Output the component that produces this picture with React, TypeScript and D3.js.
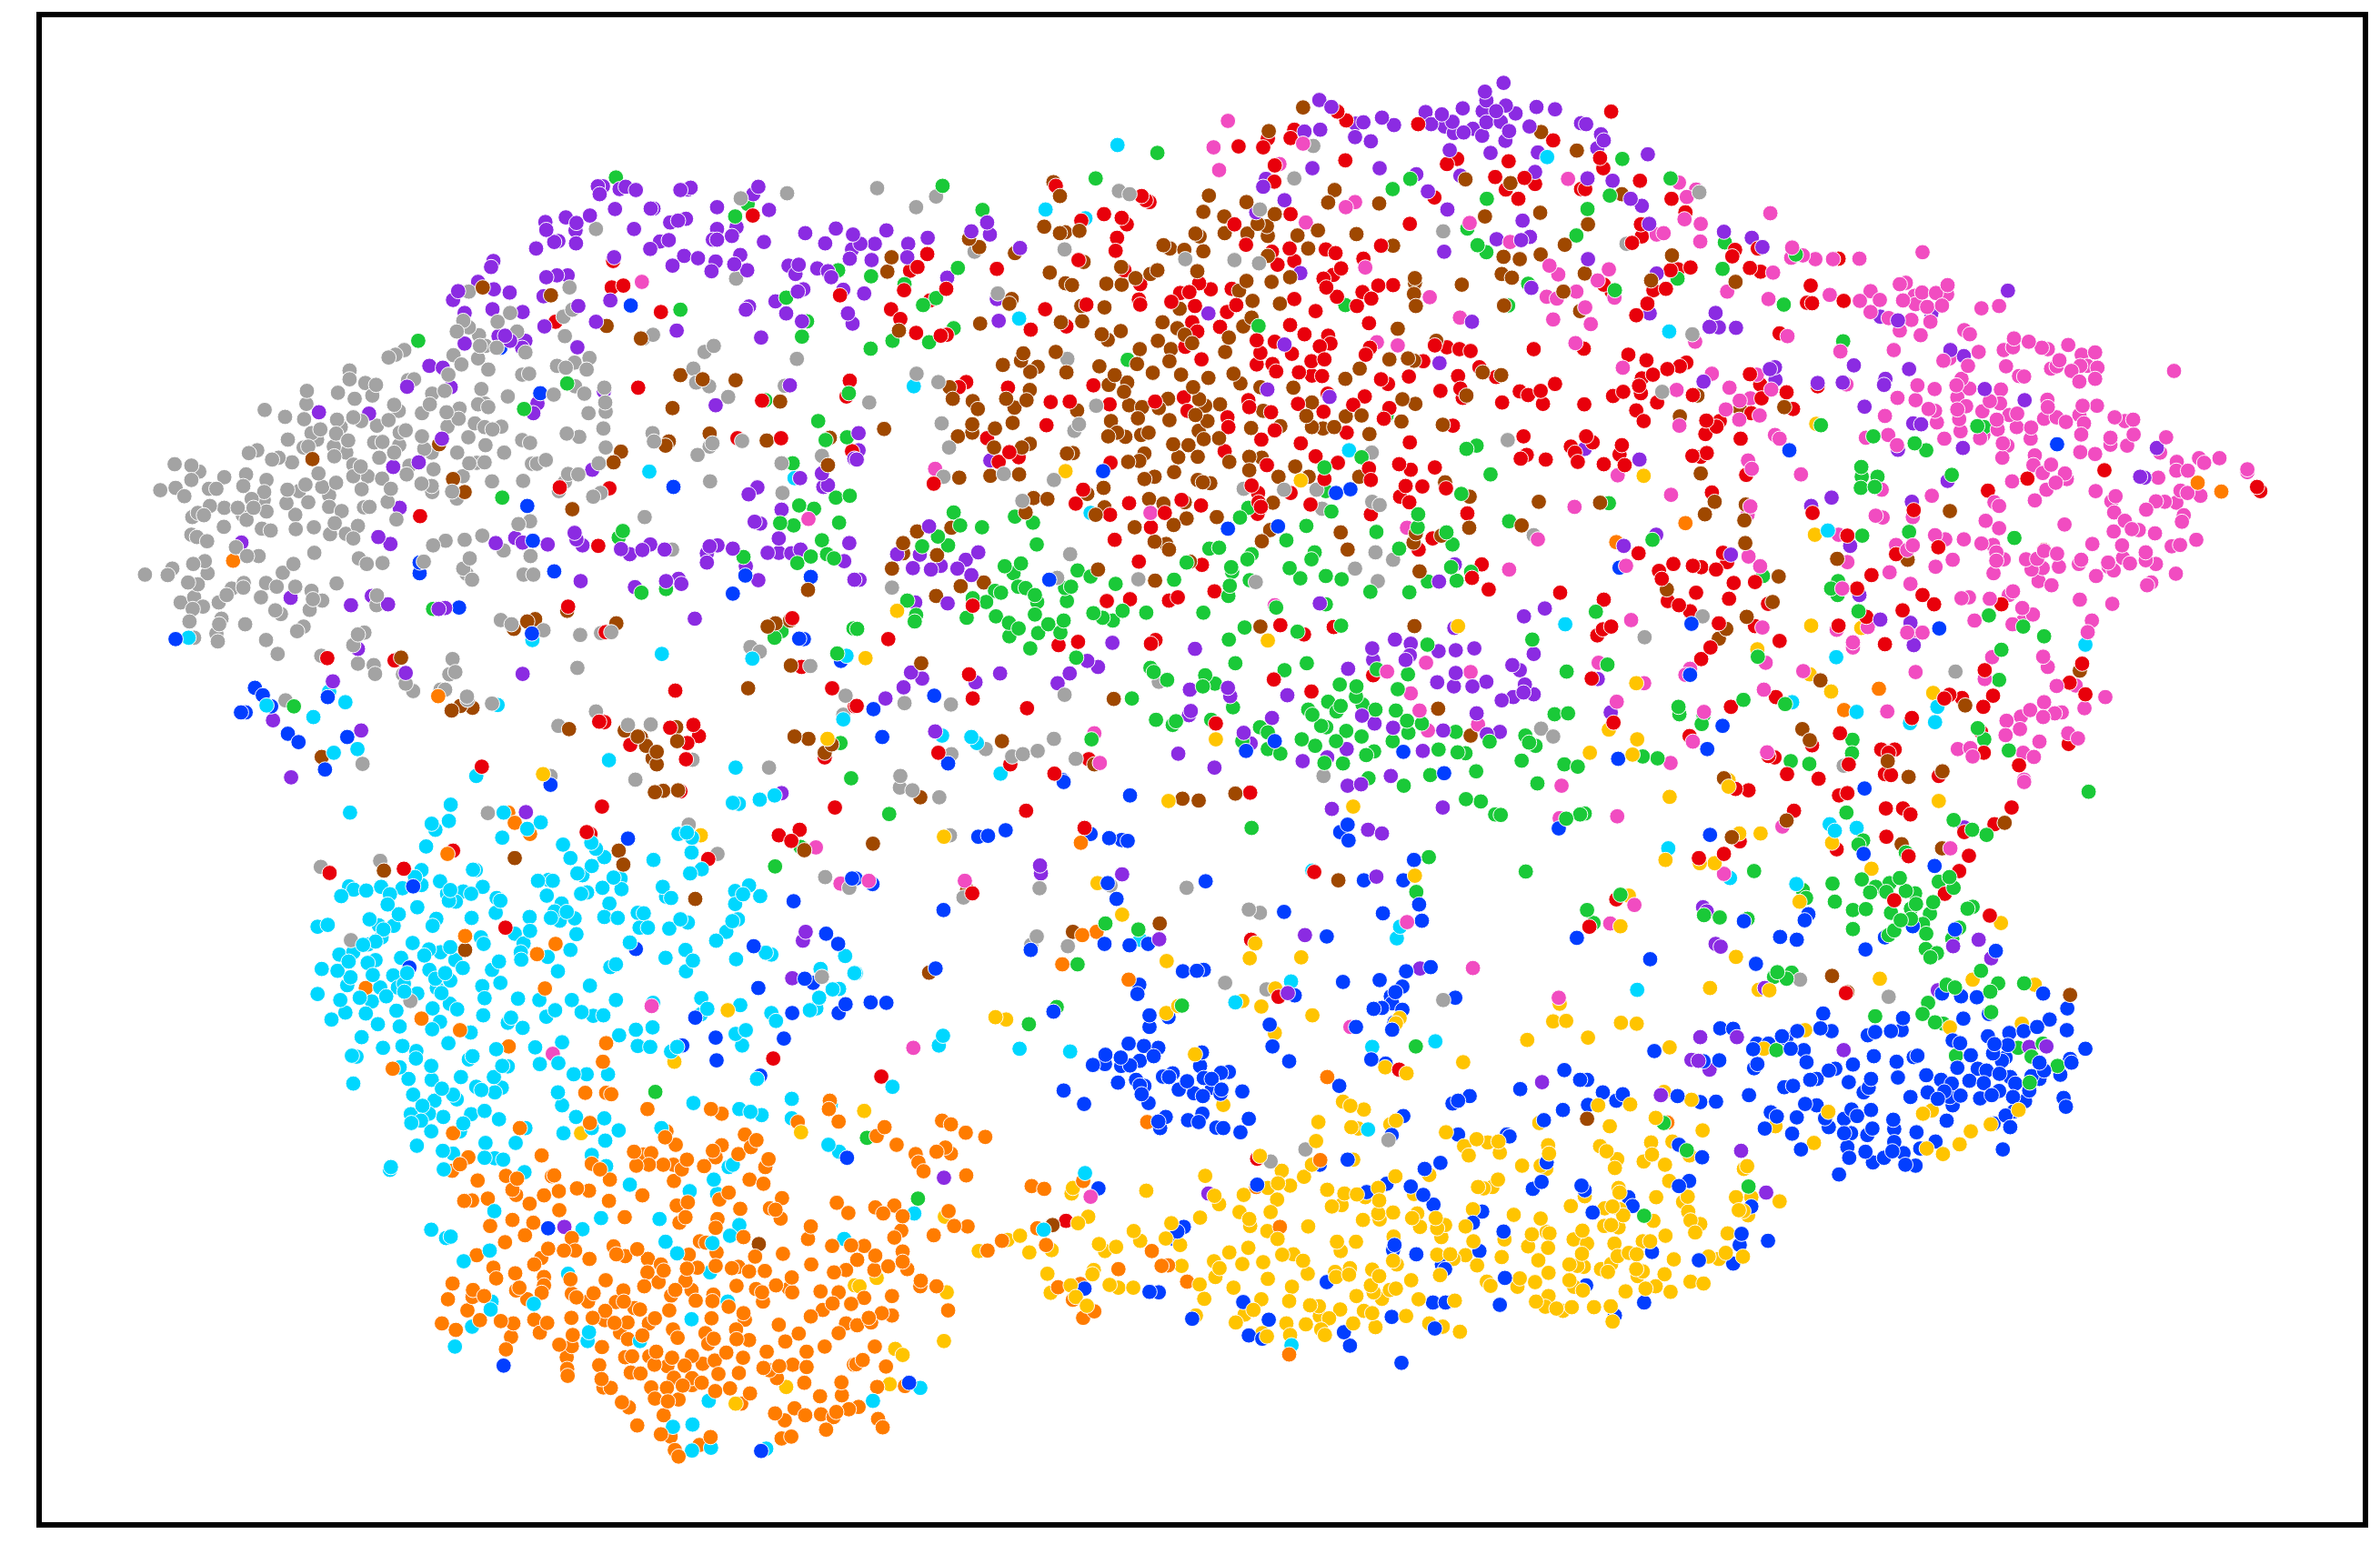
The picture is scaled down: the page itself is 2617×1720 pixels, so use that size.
import { useEffect, useRef } from "react";
import * as d3 from "d3";

// Points, one crop at a time. Each list is flat x,y,x,y...
// in crop units, nw/n/ne are the top row and sw/s/se the bottom row.

const grayNW = [1422,299,1322,310,1010,376,1312,483,953,502,736,511,959,550,940,565,825,557,798,576,724,574,736,588,710,597,758,605,840,597,943,607,578,647,597,637,563,653,1133,604,1112,612,1264,628,1244,641,760,628,772,628,796,632,703,648,720,668,756,655,858,642,1443,656,964,664,996,654,926,671,945,675,990,679,778,679,692,690,851,690,866,688,479,681,479,700,605,702,618,700,513,708,536,712,454,729,490,742,528,735,387,725,657,731,763,721,684,725,820,737,919,733,965,715,985,731,1028,718,1030,750,1220,677,1226,707,1254,715,1295,738,1417,714,386,753,296,766,340,781,381,786,575,755,585,768,652,754,635,773,756,754,770,752,778,760,688,771,716,763,714,785,487,782,452,787,504,790,538,800,563,788,994,773,1031,770,749,795,770,803,787,808,806,802,690,802,1026,806,587,815,600,810,450,817,460,803,397,816,416,808,409,830,476,832,346,830,635,823,735,825,947,817,974,824,851,831,868,837,1132,816,1135,834,1261,838,1325,833,1255,845,532,836,550,835,445,845,472,858,390,845,446,866,380,847,586,842,640,850,656,858,772,842,711,858,812,858,1031,847,1229,863,262,859,280,853,312,873,326,869,355,879,543,869,575,858,102,883,138,886,155,899,503,888,487,884,608,886,660,894,737,881,753,880,770,879,902,874,883,882,872,882,1016,881,1497,865,1410,881,209,911,256,905,300,917,138,917,412,903,487,909,518,909,549,914,602,905,634,925,656,930,723,909,786,920,853,919,950,904,972,905,943,921,1256,920,71,939,104,934,176,936,192,936,123,952,250,930,295,943,345,938,370,941,384,927,420,932,450,923,505,937,568,936,657,943,700,942,710,957,930,941,1004,953,1020,945,1412,945,294,960,268,958,435,950,390,965,343,967,178,973,209,977,238,977,272,977,300,985,152,988,165,993,140,997,362,992,462,984,435,975,522,975,510,976,561,964,580,1002,249,993,257,1003,447,1010,497,1016,208,1018,290,1022,309,1026,363,1023,402,1019,437,1034,471,1033,487,1043,138,1035,150,1040,172,1049,843,1012,868,1006,1115,997,659,1058,686,1048,727,1046,765,1037,811,1069,234,1062,258,1081,283,1081,403,1074,1174,1067,869,1081,499,1086,516,1098,550,1096,639,1093,738,1086,142,1098,167,1092,97,1108,87,1122,38,1121,173,1118,358,1098,335,1117,724,1108,731,1119,743,1132,854,1121,875,1121,131,1138,152,1142,299,1139,251,1139,225,1151,250,1149,322,1147,362,1147,451,1140,397,1156,144,1170,214,1165,288,1170,400,1174,420,1177,115,1181,197,1181,538,1166,537,1187,163,1190,141,1195,393,1197,319,1198,331,1206,134,1222,203,1216,198,1228,254,1228,192,1248,380,1233,366,1243,805,1219,828,1228,897,1241,976,1251,1021,1247,1043,1245,144,1257,195,1265,299,1262,324,1292,497,1250,511,1246,487,1273,1343,1277,1363,1287,418,1296,497,1313,531,1316,534,1335,701,1303,707,1331,694,1336,970,1322,1472,1318,594,1336,600,1356,616,1372,685,1369,675,1369,732,1384,733,1391,341,1392,786,1399,1548,1382,1543,1423,929,1447,1010,1416,1079,1445,1128,1444,1218,1520,507,1529,1383,1537,1095,1563,912,1555];
const purpleNW = [1014,284,1025,284,1018,301,1061,290,1074,285,1096,292,1192,292,1214,287,1208,291,1360,285,1349,301,1271,329,1383,335,1051,333,1128,332,1134,332,901,361,903,378,945,351,968,363,966,379,997,347,1170,362,1187,358,1204,354,1092,376,1271,376,1313,372,1303,391,1461,385,1527,375,1564,388,881,418,920,404,929,402,967,407,1127,419,1148,403,1167,400,1262,399,1271,399,1372,404,1504,407,1562,420,1200,434,1230,439,1049,437,1268,446,1321,432,1308,452,1336,465,1259,467,1175,455,1425,455,1447,453,1487,461,1440,473,1510,467,1517,480,1557,440,789,445,784,458,903,480,926,476,949,476,756,490,790,506,824,513,713,510,702,529,1041,530,897,521,1457,506,1445,511,1543,507,1397,532,727,557,787,549,852,555,1333,550,1340,543,1420,558,972,542,1010,576,899,586,1553,558,1454,575,1563,580,1184,595,800,607,814,606,858,617,825,617,727,623,851,632,970,631,1366,610,651,671,680,675,697,717,603,716,1268,756,1027,726,884,752,875,773,1428,713,413,771,521,774,678,828,573,889,628,879,1002,895,1567,871,1450,913,1497,903,1510,928,1500,932,1358,933,1339,948,587,977,1410,981,1364,1011,1352,1007,541,1040,567,1055,246,1052,794,1053,836,1042,852,1052,906,1056,964,1031,968,1045,981,1058,1064,1066,1083,1077,1110,1068,1127,1056,1158,1067,1255,1060,1272,1058,1305,1065,1404,1043,1380,1074,1404,1074,1431,1075,1451,1067,1556,1053,1545,1092,1249,1095,1249,1075,1333,1103,1360,1133,1094,1148,977,1135,1161,1135,1188,1130,1194,1141,1567,1132,352,1171,482,1187,562,1185,527,1167,671,1195,685,1193,497,1281,1223,1216,852,1335,600,1333,443,1351,314,1435,504,1457,353,1558];
const greenNW = [1053,265,1337,322,1310,349,627,617,1532,465,1420,524,1192,550,1465,575,1454,608,948,709,1555,730,1375,745,855,764,1489,790,1505,831,1551,825,1434,881,808,955,1527,955,1557,951,1448,972,1480,979,1534,1009,1407,1010,1436,1015,1068,1027,1059,1041,1497,1047,1328,1083,1473,1082,1508,1077,1523,1086,1444,1096,1161,1152,1108,1160,659,1195,1410,1243,1395,1257,1565,1237,1530,1291,359,1405,1537,1484,1560,1560];
const redNW = [1348,347,1536,519,1044,502,1069,498,1150,555,923,576,1047,445,1101,718,1557,703,1550,737,1368,746,1315,827,1409,827,1562,855,932,933,1039,935,631,995,1015,1059,950,1190,1433,1215,1031,1245,431,1301,576,1306,1453,1320,1181,1371,1519,1366,1568,1405,1017,1438,1028,1439,1170,1451,1220,1445,1232,1469,1207,1484,1084,1488,1204,1519,1503,1515,764,1535];
const pinkNW = [1109,490,1468,1001];
const blueNW = [1085,541,890,730,804,632,1177,932,862,973,1473,1126,874,1048,630,1118,630,1095,920,1114,1332,1123,1305,1162,715,1192,872,1248,1448,1259,1458,1260,1538,1307,104,1260,275,1365,292,1381,310,1405,255,1418,245,1418,432,1385,346,1464,369,1482,474,1471,426,1541];
const brownNW = [766,502,913,519,1033,585,1107,612,1192,691,1240,700,1311,702,1407,748,1175,762,1514,826,1255,817,1167,834,1160,843,1378,832,672,840,399,872,1064,856,1048,879,1510,885,702,915,727,943,959,980,879,1217,862,1222,833,1238,948,1199,1054,1226,1467,1154,1380,1233,1397,1226,1428,1220,590,1300,1430,1317,952,1454,1072,1457,1100,1470,1107,1472,1118,1490,1141,1503,1132,1517,1141,1530,1183,1450,1185,1480,1438,1470,1468,1475,1503,1505,1518,1487,699,1414,718,1404,744,1408,1338,1366,419,1514];
const cyanNW = [1125,899,1438,913,132,1257,873,1262,1152,1292,1347,1302,1550,1296,435,1373,470,1396,401,1428,300,1403,798,1402,445,1505,496,1497,1038,1521,1311,1537,752,1555,1543,1433];
const orangeNW = [228,1091,670,1383];
const yellowNW = [1509,1475,896,1551];

const grayN = [48,288,132,329,175,306,569,294,592,301,452,420,988,197,947,267,873,334,1268,381,712,441,818,443,871,450,308,515,133,688,180,706,458,656,31,750,187,795,483,797,473,811,520,757,203,847,191,910,321,904,429,917,838,936,925,938,361,962,995,938,1007,979,1115,964,1131,971,1463,1036,1407,831,1114,858,464,1077,80,1149,436,1128,611,1131,864,1137,1122,1073,1160,1089,1078,1108,1127,1135,258,425,107,1398,207,1401,452,1380,655,1352,282,1497,339,1513,362,1508,394,1501,429,1475,476,1518,208,1508,1479,1453,1505,1470,1010,1555,98,1555];
const purpleN = [1001,98,1027,113,1096,146,1079,149,1136,136,1162,152,1003,162,1078,178,1112,187,969,166,1398,61,1358,80,1361,99,1403,110,1310,116,1230,124,1265,129,1242,150,1288,145,1271,155,1353,122,1382,122,1424,127,1361,146,1392,145,1469,113,1509,118,1332,160,1410,165,1291,169,1312,168,1352,175,1402,186,1454,155,1565,148,1282,206,1370,212,1472,211,986,245,1131,245,1466,253,1305,261,1210,258,880,285,886,268,926,314,1235,295,1277,334,1439,358,1383,398,1455,393,1436,400,1270,425,865,340,1458,503,285,362,251,381,291,388,356,417,68,379,157,395,115,408,113,437,43,408,12,408,36,443,199,481,20,515,310,574,306,527,762,558,960,471,926,625,889,722,1023,738,1260,665,1330,576,8,816,8,853,4,873,292,875,160,1017,91,1077,140,1078,239,1089,266,1073,221,1108,185,1102,164,1110,125,1107,251,1122,10,1132,130,1181,200,1183,1293,1099,1259,1136,1487,1194,1442,1211,1292,1236,1002,1183,555,1268,733,1281,1164,1261,1198,1270,1258,1286,1295,1284,1335,1280,1196,1295,1187,1305,1117,1305,1115,1280,1063,1324,1463,1292,1417,1316,1433,1327,1295,1333,1255,1353,1291,1362,1331,1362,1361,1352,1444,1358,1441,1375,1463,1379,1419,1385,1394,1392,501,1307,524,1320,463,1334,437,1355,121,1332,145,1345,105,1364,66,1388,313,1334,260,1353,722,1369,804,1365,809,1383,724,1415,720,1424,932,1381,1340,1420,1390,1460,1160,1451,1120,1442,1093,1425,1268,1457,838,1462,899,1430,173,1459,697,1507,775,1537,853,1485,965,1523,1060,1497,1224,1501,1155,1555,1018,1515,1362,1465];
const greenN = [189,283,275,335,519,267,652,212,1197,268,1159,290,1362,311,222,460,35,478,107,495,147,540,175,525,213,590,81,617,160,620,34,634,588,658,1057,540,870,585,1555,390,1342,411,1361,426,1320,375,1451,494,1408,541,213,987,227,1015,274,1019,179,1039,145,1060,201,1058,345,996,384,1009,392,1056,848,977,830,998,1027,985,973,1016,1015,941,1012,890,1146,778,1092,868,1340,843,1318,850,1370,905,1307,947,1214,991,1213,1019,1288,1056,1173,1065,1124,1029,1410,1006,1275,1030,930,1047,764,1065,785,1063,855,1077,846,1088,991,1073,984,1088,813,1115,811,1105,808,1145,805,1167,851,1133,688,1132,715,1095,323,1103,358,1097,342,1118,352,1147,368,1150,388,1165,393,1180,302,1156,315,1160,254,1172,283,1180,241,1214,304,1211,332,1225,353,1237,333,1254,395,1247,388,1207,417,1228,450,1220,443,1246,378,1280,453,1150,466,1147,457,1178,480,1112,508,1125,562,1141,514,1204,534,1214,577,1199,556,1220,628,1203,751,1203,113,1177,132,1208,129,1222,5,1238,806,1261,840,1235,954,1244,908,1192,1015,1185,974,1312,926,1327,820,1312,1048,1231,937,1107,960,1129,1015,1124,1049,1131,1111,1158,1195,1159,1235,1136,1297,1134,1328,1115,1285,1105,1460,1261,1234,1272,1192,1336,1125,1325,1170,1368,1045,1358,1081,1362,1080,1384,1094,1401,1122,1412,1166,1414,1190,1436,1222,1442,477,1300,597,1388,644,1331,637,1322,673,1348,755,1338,750,1362,776,1356,815,1407,649,1434,692,1437,685,1445,768,1434,986,1423,977,1412,1020,1395,1047,1404,1038,1416,1016,1450,1005,1447,1037,1480,1059,1458,963,1476,992,1490,1092,1470,1119,1502,1102,1510,1052,1528,1012,1527,1159,1480,1193,1462,1295,1460,1258,1498,1299,1504,1316,1506,1368,1481,1453,1483,1445,1468,1467,1490,1437,1522,1508,1422,1537,1420,1534,1330,1529,1530,1558,1535,1339,1545,1240,1553,1107,1560,873,1450,890,1461,890,1497,917,1507,835,1480,510,1476];
const redN = [1040,123,1059,142,1214,150,947,162,939,180,890,181,880,200,827,198,905,239,1057,228,1276,236,1298,225,1409,230,1380,264,1403,291,1430,311,1443,266,1466,279,1505,185,1565,290,904,274,1249,308,433,283,618,305,627,314,635,318,537,344,575,352,586,366,488,358,1196,365,939,344,818,366,565,395,1134,412,843,410,899,425,937,418,1015,420,1036,428,1096,440,1048,461,911,453,947,445,482,443,306,462,156,430,119,466,135,458,197,505,106,508,162,530,78,549,98,570,132,600,198,604,185,606,562,423,581,465,615,495,1031,475,1010,483,1016,502,1039,522,1094,512,1128,498,1160,497,1113,526,1082,542,993,553,742,493,721,512,701,514,767,506,682,533,733,542,812,505,822,540,802,555,947,527,499,539,410,549,612,528,615,539,456,586,379,593,727,577,787,587,738,597,712,630,938,583,969,603,1108,579,905,619,866,616,874,643,942,645,866,668,900,667,1002,629,1025,623,1020,606,984,661,1012,657,957,685,985,692,1007,693,1110,632,1101,647,1276,631,1303,635,1327,639,1250,627,1225,661,1463,635,1346,674,1382,695,1509,710,1433,726,1451,734,1478,725,1483,753,1395,750,1300,693,1262,725,1305,720,1310,740,1194,694,1134,700,1149,710,747,657,908,683,240,706,224,717,330,718,514,713,422,749,463,748,549,754,647,748,709,739,717,768,848,745,850,760,803,782,805,803,955,753,1019,731,1010,770,1074,755,1099,737,897,771,413,799,876,830,905,810,961,838,1060,815,1196,836,1152,762,1140,785,1289,800,285,827,333,857,353,868,310,878,797,855,888,885,993,866,1041,880,1108,892,1112,917,1012,915,1173,883,1198,895,1250,890,1187,930,1223,931,1274,935,1175,953,1195,965,1441,823,1435,871,1448,863,1489,873,1543,845,1552,858,1558,878,170,925,551,880,855,929,869,945,870,965,875,975,868,990,939,945,982,970,1112,991,1320,989,1245,1043,1215,1067,476,968,492,938,591,967,746,972,704,960,668,988,550,992,638,1019,560,1046,612,1093,748,1100,775,1157,543,1178,593,1174,677,1177,696,1170,1330,1128,1351,1099,1366,1153,1520,1160,917,1230,1032,1234,968,1250,903,1347,984,1373,648,1262,638,1270,439,1273,481,1266,72,1260,254,1188,246,1336,254,1388,371,1409,4,1404,778,1442,180,1505,504,1519,335,1530,1117,1338,430,1550];
const brownN = [966,114,892,165,763,304,1034,292,1020,319,1130,321,844,318,428,275,442,305,751,339,796,349,905,344,868,365,888,370,890,391,797,385,846,386,743,392,734,386,408,371,442,385,453,383,484,380,954,390,998,379,1081,387,1358,349,1477,341,1316,269,1413,277,1479,167,1556,207,1530,410,1478,431,1398,436,1433,441,1394,473,1416,481,1527,511,1563,553,1399,541,665,411,679,418,710,421,751,424,977,418,1160,412,1207,482,1207,492,1205,516,1209,542,1308,496,890,434,898,490,938,480,828,509,844,488,857,531,855,567,837,586,916,537,738,467,574,458,652,465,637,473,605,482,493,447,420,470,454,493,468,497,542,494,575,496,333,537,338,527,538,545,488,542,490,575,444,577,270,580,95,595,79,437,70,468,268,415,246,397,345,428,573,596,532,603,545,615,663,577,700,548,695,590,711,604,727,622,653,617,614,635,681,635,678,661,608,667,642,686,806,610,798,641,1170,591,1253,617,1152,657,1192,655,1205,660,363,644,358,660,378,684,394,673,319,669,433,641,456,685,527,672,560,691,547,712,580,727,587,707,703,690,729,717,762,697,816,688,831,709,874,717,945,718,1057,699,1088,677,1180,743,1208,753,1318,735,1393,691,1353,685,591,756,619,760,655,762,675,742,742,743,755,757,787,754,880,768,734,777,678,788,552,790,610,784,633,815,565,815,583,824,546,823,617,820,760,790,741,811,785,827,752,829,719,842,686,840,854,805,917,801,985,750,973,779,1009,806,985,803,1092,778,1058,780,1033,803,1178,791,1109,818,1267,798,204,717,211,742,254,747,265,764,326,742,344,761,370,745,377,723,479,767,340,794,302,806,222,823,253,797,253,815,377,839,360,847,300,847,63,807,470,859,457,860,624,860,613,876,589,878,739,867,697,868,688,900,624,915,646,910,739,917,766,924,750,922,807,878,850,867,877,869,850,896,949,888,913,910,978,910,1087,910,1272,922,1325,953,225,912,292,908,354,905,385,956,415,958,368,987,536,934,501,947,538,976,519,992,634,958,665,968,711,965,780,997,715,1000,687,1014,603,1019,901,966,1474,964,1324,1020,1437,1015,208,1020,134,1028,104,1053,104,1075,177,1079,646,1050,671,1055,677,1067,877,1049,895,1025,1047,1030,1062,1067,1264,1037,1209,1032,1204,1052,80,1108,524,1110,722,1093,1217,1114,647,1134,228,1146,278,1138,175,1167,874,1233,1206,1232,143,1312,558,1389,1257,1410,1327,1468,317,1480,516,1530];
const pinkN = [804,143,773,200,785,249,915,236,966,192,1058,329,1078,318,972,362,1325,363,1412,404,1537,268,1497,455,1516,474,1100,459,1491,522,1555,511,1239,523,1513,526,1505,571,1304,567,1125,620,1170,627,1553,622,1551,975,637,988,1190,1020,1472,1045,1410,1110,173,893,905,1187,1231,1311,1147,1330,1327,1331,1198,1377,1217,1414,1343,1444,1235,1457,516,1463,528,1527];
const blueN = [535,898,1068,937,1037,945,804,1022,912,1017,419,1132,171,1382,40,1411,59,1471,201,1528,843,1501,1182,1503,1270,1549,905,1480,448,1564];
const cyanN = [566,195,411,334,497,353,354,569,127,715,1065,853,508,988,1531,1228,1492,221,188,1468,251,1471,263,1484,314,1550];
const yellowN = [454,898,961,918,91,1199,23,1301,890,1263,778,1476,1300,1232];

const pinkNE = [405,342,733,426,208,276,245,291,225,307,255,365,220,355,175,385,160,388,254,403,452,416,450,438,475,433,502,441,540,441,597,440,57,463,33,487,69,524,411,470,312,511,401,527,533,518,598,531,621,510,641,529,621,555,660,568,709,572,684,595,729,605,750,576,684,495,697,492,716,520,718,538,732,513,762,514,787,497,786,517,775,541,743,544,691,530,860,547,898,542,6,545,18,581,243,619,442,607,823,594,835,603,671,637,556,640,854,641,791,655,778,660,831,671,930,612,928,631,908,637,962,619,990,632,1003,635,1047,626,1028,659,1010,677,1022,672,1054,682,1076,647,1105,642,1110,675,1088,671,1073,671,1071,705,1105,699,913,672,941,693,952,694,1275,682,87,675,279,688,203,723,317,718,569,711,722,713,759,721,817,699,806,713,834,720,902,722,679,740,718,745,808,739,827,758,746,764,760,768,900,752,878,747,862,769,1002,744,1003,760,1078,757,1109,757,362,741,339,746,376,690,407,722,309,765,338,787,382,778,652,779,808,765,812,786,764,793,920,777,937,774,893,787,936,803,967,804,995,785,1022,782,1042,792,1071,777,1081,795,1147,782,1169,790,1187,787,895,808,815,812,857,827,864,820,780,828,678,842,611,826,659,820,906,838,916,843,966,828,1075,819,1138,826,1188,819,1138,841,1174,843,1258,825,1245,858,425,828,415,820,209,800,357,875,365,893,76,907,471,905,905,869,975,864,972,885,1010,884,1073,857,1105,861,1281,878,1280,897,1305,897,1340,880,1329,870,1373,870,1433,894,1433,900,992,902,1040,903,1044,915,1020,923,926,920,1000,938,1241,912,645,938,753,951,191,949,1106,941,888,965,898,973,975,961,1140,963,1149,952,1236,963,1255,964,1280,966,1289,940,1304,945,1332,951,1215,981,362,974,356,992,712,997,632,994,647,998,1146,987,1169,1005,869,1005,898,1021,1039,1013,1184,1023,1199,1025,1145,1028,1234,1032,1296,993,1292,1007,552,1035,760,1036,782,1045,822,1045,676,1057,712,1058,700,1068,860,1054,885,1057,1099,1055,1163,1058,1323,1046,1270,1060,1288,1057,892,1073,995,1070,1023,1076,1075,1089,1070,1098,1165,1085,1133,1095,1214,1073,1214,1090,1180,1097,1236,1098,358,1082,383,1103,798,1089,761,1104,571,1094,94,1102,662,1116,892,1091,908,1088,956,1088,980,1087,992,1107,968,1110,1027,1104,1134,1104,1145,1112,1279,1119,1107,1124,886,1118,983,1135,1011,1144,1217,1144,1226,1138,707,1141,560,1151,817,1172,833,1170,878,1173,919,1165,928,1157,948,1193,1072,1175,1142,1184,971,1207,949,1222,927,1228,845,1220,105,1219,388,1235,548,1240,615,1234,700,1246,718,1246,733,1246,1098,1220,1089,1245,583,1278,583,1267,993,1298,1003,1320,883,1299,867,1346,35,1311,395,1311,476,1329,222,1337,232,1324,718,1331,133,1355,1022,1361,1063,1360,1127,1385,1082,1409,391,1369,74,1395,657,1416,995,1396,965,1413,993,1428,1018,1420,1033,1418,945,1427,914,1436,943,1454,912,1467,262,1417,1047,1463,1068,1474,985,1481,950,1505,973,1514,809,1497,836,1495,841,1513,190,1527,398,1504,952,1563,238,1481];
const purpleNE = [141,215,40,172,8,150,46,185,32,202,11,267,65,272,104,311,128,326,144,365,305,382,365,395,388,415,12,441,160,472,917,509,145,558,287,557,274,587,294,588,331,589,642,565,680,573,752,558,793,637,822,650,585,670,704,678,653,699,650,712,507,708,561,707,415,674,404,678,416,701,261,705,867,721,953,745,608,759,713,795,730,797,820,848,680,852,787,919,1238,848,1202,910,1211,912,123,873,5,850,537,955,493,973,710,964,159,1035,89,1059,577,1059,320,1078,597,1165,642,1218,707,1225,714,1273,33,1346,61,1418];
const greenNE = [86,225,190,267,59,304,11,333,307,405,460,431,205,483,302,462,434,539,70,508,562,618,851,801,866,803,716,838,741,853,627,823,796,906,514,799,601,889,602,910,636,910,600,934,630,932,57,967,931,1042,704,1029,603,1037,151,1046,389,1124,551,1135,536,1151,550,1165,595,1200,876,1209,950,1233,995,1254,29,1201,903,1283,54,1315,898,1348,378,1298,347,1391,437,1400,207,1406,209,1422,261,1424,257,1443,852,1452,866,1476,919,1500,582,1477,581,1506,449,1523,489,1529,130,1513,162,1517];
const redNE = [62,123,38,223,45,245,6,290,124,272,192,311,222,340,126,366,128,392,107,406,323,435,329,421,361,460,384,468,378,418,492,498,484,535,495,536,563,531,552,440,233,459,206,463,190,465,46,496,63,511,153,508,180,505,140,537,116,562,425,601,3,634,99,647,138,659,152,690,183,678,210,672,224,664,128,698,122,714,88,727,66,736,126,730,161,750,116,767,132,790,238,734,361,689,383,711,386,741,440,728,364,773,454,764,507,715,267,789,289,802,296,790,265,818,341,828,4,754,8,823,22,836,85,842,80,862,46,883,91,885,237,865,255,867,268,859,353,906,279,944,959,914,874,940,1125,896,1454,932,1461,941,714,982,496,988,571,1037,767,1062,676,1077,121,1075,303,1074,312,1094,196,1098,238,1102,256,1105,288,1110,165,1113,171,1130,326,1139,372,1137,623,1122,245,1160,316,1173,400,1184,184,1178,208,1187,232,1200,46,1175,592,1151,733,1165,758,1185,690,1198,903,1185,612,1212,552,1231,294,1226,372,1232,62,1233,44,1239,32,1252,425,1264,652,1271,276,1278,256,1303,20,1345,867,1327,995,1068,1077,1313,1050,1354,1084,1379,885,1382,791,1380,818,1387,780,1388,864,1406,417,1385,320,1406,67,1440,231,1469,710,1430,555,1463,495,1489,414,1515,401,1512,644,1498,660,1505,673,1498,865,1505,859,1460,941,1532,1048,1486,441,1551,509,1561,665,1553,652,1551,768,1555,574,1530];
const brownNE = [85,301,12,366,193,433,148,487,330,490,5,472,435,760,210,780,340,765,255,903,285,964,264,991,38,966,352,970,349,1004,792,984,351,1053,549,1087,701,1089,423,1125,182,1153,410,1180,354,1212,310,1238,294,1259,513,1349,1072,1328,825,1403,474,1454,490,1478,658,1523,703,1557,776,1545,305,1560,248,735];
const grayNE = [172,727,237,603,95,408,252,297,259,1211,134,1256,804,1330,563,1533];
const blueNE = [446,853,1023,840,80,1106,235,1227,769,1237,232,1337,302,1447,269,1497,77,1518];
const cyanNE = [187,597,529,1026,1084,1272,547,1299,591,1417,452,1396,765,1406,706,1441,760,1439];
const yellowNE = [504,796,132,908,501,1035,493,1231,601,1236,377,1282,116,1355,490,1336,536,1373,756,1376,57,1455,118,1476,16,1505,108,1509,315,1564];
const orangeNE = [1326,923,1377,942,222,1010,73,1051,639,1367,564,1413];

const cyanSW = [697,49,480,66,656,90,693,84,664,103,811,66,891,87,862,101,808,120,644,139,939,135,1000,131,1010,144,955,164,1028,162,1134,168,1188,112,1206,109,1217,120,1216,152,1213,197,1238,188,1305,45,1318,47,1363,38,1395,29,745,189,751,190,634,190,620,205,634,222,674,214,970,197,981,201,1001,181,1048,206,1063,208,1065,231,1024,228,978,241,991,238,885,213,908,211,917,213,766,226,696,233,689,241,724,236,741,241,708,258,693,256,566,242,593,229,547,226,515,234,488,232,478,225,461,246,561,264,625,270,796,250,804,256,904,245,1154,226,1172,250,1161,247,1310,235,1327,242,1340,223,1364,246,1039,262,936,262,921,279,947,280,794,282,585,285,522,296,666,295,658,310,742,293,867,291,913,293,932,299,964,294,1028,291,1057,293,1100,282,1113,283,1310,263,1316,296,1304,300,1192,296,1208,303,1168,316,1104,314,1122,314,410,312,432,308,542,309,552,318,574,310,868,321,835,327,968,328,1291,323,1269,342,1083,346,548,335,535,344,519,350,508,351,762,335,768,349,615,347,854,348,848,367,955,362,650,361,640,374,675,367,696,356,707,384,457,372,487,367,590,379,535,384,518,390,477,387,849,383,906,377,801,387,786,405,1203,362,1219,385,1204,408,1160,379,1312,382,1376,368,1388,372,1547,375,419,403,453,407,481,421,529,416,573,417,603,412,651,405,664,424,685,412,723,401,696,428,928,408,1053,393,1041,399,1494,403,1567,412,474,438,410,457,545,443,558,462,596,435,597,452,583,443,625,456,667,444,677,455,765,440,804,433,997,439,1534,446,1520,447,459,470,501,465,527,473,470,497,514,499,580,493,658,488,695,478,711,490,770,466,842,467,888,470,922,492,958,470,979,496,1053,470,1133,476,1237,466,1250,489,1236,501,1321,481,1491,465,1485,488,1471,492,440,512,540,522,587,527,674,517,657,533,767,503,827,508,820,519,852,530,903,506,1004,504,1026,503,1388,498,1398,515,740,540,1096,534,1132,529,1060,546,505,550,551,573,593,569,623,580,692,563,937,561,879,572,795,576,1100,569,1127,571,1185,571,1172,581,1311,543,1333,535,1325,568,484,590,494,592,622,596,744,591,736,598,889,608,929,606,587,615,808,612,820,613,655,612,606,640,719,636,656,642,790,636,962,630,990,630,1036,630,487,650,678,661,752,657,763,664,792,669,807,659,1357,640,616,674,702,674,710,684,662,687,928,669,636,698,937,697,611,716,650,715,681,722,741,716,770,709,633,730,612,735,724,736,801,727,967,722,1028,725,1220,692,1319,705,1343,711,1367,718,1432,683,1432,725,1516,695,655,753,717,753,858,746,940,757,1001,746,1059,751,1030,773,1151,746,624,784,772,778,837,778,680,795,702,801,770,810,792,811,810,814,1001,804,1511,782,1534,797,1032,828,856,841,566,836,568,830,682,835,1305,825,1296,830,1264,857,1083,868,1212,882,1271,888,791,925,1021,940,1147,942,1319,955,1299,978,655,965,697,980,687,983,981,964,1160,991,1261,994,1185,1016,781,1010,725,1033,950,1060,1256,1057,1294,1120,783,1137,785,1120,876,1125,1216,1158,743,1174,995,1186,992,1205,1105,1205,706,1217,1253,1334,1176,1390,1218,1385,1258,1435,1217,1441,1377,1437,1545,985];
const orangeSW = [821,66,835,88,868,112,690,155,728,332,923,349,883,371,514,444,900,445,634,510,717,535,822,570,1032,563,572,618,1025,603,987,670,1032,670,1043,673,1121,705,1258,705,1281,715,1514,687,1512,705,1533,732,1445,733,997,735,846,746,702,757,1162,753,1159,766,1182,782,1331,760,1356,772,1344,787,1281,783,1262,795,1268,809,1317,802,1382,813,1375,830,1092,797,1112,803,1129,800,1097,827,1124,825,1155,825,1177,825,1206,814,1195,835,1178,860,1243,828,1341,857,1371,866,893,805,735,809,717,824,700,838,1001,823,1019,835,1040,857,755,859,816,849,840,855,915,850,920,848,830,879,838,890,969,876,995,881,930,882,898,891,1110,891,1296,885,1276,900,1411,897,777,898,726,903,743,902,867,909,1038,903,1208,906,1184,913,1397,922,1385,919,1529,907,1554,929,1321,920,931,923,830,944,875,950,1072,938,1203,938,1190,950,1272,942,1268,961,1408,941,782,957,857,977,1473,958,1467,985,958,983,814,992,1328,981,1234,990,1247,993,907,1006,941,1010,965,1010,1048,1001,1054,1018,1073,1022,1099,1007,1210,1019,1270,1014,1413,1017,1519,1000,1560,999,753,1020,892,1026,877,1040,996,1028,1122,1028,1353,1023,1150,1040,1121,1057,1156,1053,1206,1049,1229,1047,1268,1043,1303,1048,1317,1045,1340,1055,1374,1054,789,1047,836,1059,795,1070,898,1067,898,1085,955,1072,1031,1074,1203,1075,1474,1040,1523,1057,1549,1052,1432,1068,701,1081,745,1095,838,1096,845,1090,893,1101,1114,1087,1145,1078,1069,1096,1181,1095,1216,1095,1313,1086,1398,1085,1368,1100,1355,1093,1426,1092,1433,1100,1494,1098,1533,1100,958,1103,1005,1102,691,1115,744,1110,769,1108,862,1115,968,1111,993,1120,1053,1121,1070,1120,1172,1107,1225,1118,1261,1119,1263,1105,1370,1120,1520,1124,733,1139,1030,1140,1093,1134,1105,1137,1168,1139,1296,1131,1328,1145,1499,1138,1560,1125,678,1167,760,1160,805,1162,832,1167,877,1159,905,1166,957,1155,1003,1155,1029,1160,1050,1166,1078,1165,1137,1156,1124,1167,1259,1156,1331,1159,1312,1180,1404,1170,1473,1152,1549,1167,708,1181,889,1187,1062,1187,1079,1201,1110,1193,1176,1180,1186,1198,1246,1188,1313,1201,1340,1203,1447,1189,1533,1188,827,1196,960,1192,1264,1200,931,1213,958,1216,1023,1218,1252,1211,1418,1206,1503,1217,816,1223,1140,1228,1291,1230,947,1240,1073,1240,1088,1238,1125,1238,1174,1241,1217,1237,1327,1241,1378,1228,1464,1228,1136,1256,1164,1259,1201,1258,1240,1254,1266,1247,1017,1257,1371,1263,1384,1268,1405,1259,1434,1256,1464,1261,1566,1256,948,1265,949,1280,1085,1273,1106,1275,1178,1284,1217,1285,1274,1276,1318,1274,1400,1285,1022,1287,1197,1301,1238,1295,1459,1295,1539,1294,1026,1305,1042,1306,1129,1305,1163,1306,1217,1300,1267,1313,1299,1307,1342,1318,1493,1324,1540,1322,1137,1329,1188,1331,1165,1335,1066,1337,1081,1348,1323,1340,1438,1350,1156,1365,1396,1361,1417,1376,1461,1365,1495,1363,1528,1358,1522,1369,1555,1352,1506,1396,1099,1387,1150,1406,1171,1411,1257,1412,1233,1429,1410,1415,1431,1411,1180,1440,1188,1454];
const graySW = [777,67,417,183,545,170,1210,92,1272,155,482,341,610,472,1504,205,1556,228,1497,420];
const brownSW = [553,191,835,164,1059,148,1069,178,728,362,1224,252,1137,22,1155,19,1187,18,1361,996,1459,147];
const redSW = [436,196,596,187,702,148,990,108,998,112,1023,53,1252,166,1525,55,1404,115,1449,103,1431,127,815,314,1392,596,1192,20];
const blueSW = [1079,122,1436,257,1506,327,1532,349,1350,354,1096,360,608,400,1460,424,1478,433,1360,444,1548,479,1533,498,1433,498,1224,508,1196,568,1268,551,1415,553,1270,600,1364,633,1562,208,1551,810,907,962,616,225,1366,1442,811,1258,912,6];
const purpleSW = [859,65,1410,24,1462,323,1456,342,1433,423,942,959];
const pinkSW = [917,586,1484,141,1537,219,1130,483];
const yellowSW = [1236,115,1294,492,1179,603,978,757,1452,755,1420,1304,1311,1340,1568,1085];
const greenSW = [1396,182,1451,140,1138,668];

const blueS = [593,29,450,0,266,118,287,116,325,104,508,112,548,121,575,125,588,127,1062,92,1046,108,1064,126,1517,100,38,220,2,208,191,276,564,252,545,218,756,214,1097,212,1182,212,1216,264,1222,299,1205,168,1138,283,925,280,1556,336,1017,333,538,349,592,352,632,349,379,362,1188,408,1241,399,174,402,707,408,737,407,752,405,1131,427,1052,431,1180,441,1165,453,1155,462,1158,477,1136,487,1118,489,1180,491,613,437,609,457,948,460,1294,465,34,475,68,476,428,495,635,503,676,507,635,528,1080,528,1163,518,1158,534,894,523,590,564,623,569,654,573,900,570,748,583,540,588,573,594,574,612,593,611,614,601,644,591,513,610,539,608,936,602,744,612,1113,598,1144,607,1529,621,685,628,664,635,677,636,716,645,752,638,769,640,789,627,800,626,806,625,567,648,606,642,614,654,624,655,1044,655,450,665,698,663,731,671,750,677,770,659,790,663,788,672,835,667,618,673,494,694,633,692,1434,662,1325,677,1300,687,1288,693,1526,707,1563,642,670,722,654,732,658,746,718,729,749,715,741,733,779,745,794,746,831,755,849,726,1182,720,1485,729,1157,761,1300,760,1411,764,1405,760,1262,821,1062,814,1228,834,1480,862,1461,877,1491,820,1146,866,1198,872,1225,890,1103,884,1566,870,1247,911,1352,926,1332,950,1398,969,1163,998,1160,1009,1210,1018,1346,1011,1265,1040,1272,1050,1401,1069,495,1092,1017,1078,837,1121,635,1099,655,1100,1246,1122,1273,1122,1390,1127,892,1159,727,1157,1157,1153,849,1193,878,1200,1054,1186,1067,1215,1250,1178,1178,1252,525,876,709,959,695,969,688,985,117,1295,867,868,1002,825];
const yellowS = [676,41,192,118,1074,53,523,218,576,286,1207,202,851,380,863,348,962,378,672,386,906,445,835,472,876,484,986,503,671,498,697,483,1519,478,1505,516,1533,515,1174,509,1166,520,905,541,303,507,326,512,1449,556,733,587,1311,604,1189,628,1143,615,20,709,1052,689,1068,698,1097,706,794,696,1070,744,1085,747,999,733,1154,738,1166,730,1475,735,1274,755,994,774,1340,770,1364,777,1313,785,1390,799,1387,775,1323,805,1494,783,1496,801,1490,834,1478,827,1438,827,985,825,920,838,1074,814,873,806,968,851,755,849,912,865,890,875,938,870,838,890,1165,850,1238,847,1386,857,1343,873,1355,876,1374,873,1018,879,1055,887,1082,889,1100,895,1128,875,1130,902,628,881,470,875,467,887,775,892,785,910,910,900,1205,888,1028,915,1049,912,1332,921,1543,914,829,927,896,927,1128,930,1160,928,1212,930,1201,940,1420,933,1478,941,194,937,503,937,481,951,744,939,850,942,852,957,977,958,1095,944,1131,943,1218,959,1252,940,1255,962,1272,955,1316,958,1491,970,1497,973,889,968,911,985,1161,980,601,968,356,978,682,951,670,984,615,989,701,998,1039,991,1080,991,1264,981,1333,990,1400,986,1459,975,1549,986,526,996,539,1011,563,1002,376,1014,267,1011,329,987,424,1009,848,1004,807,1014,921,1019,945,1018,1047,1011,1290,1028,1316,1020,1283,1018,1255,1019,1394,1024,1451,1001,1494,1004,1473,1031,1567,1017,774,1033,786,1048,835,1039,880,1035,966,1032,1168,1040,1160,1032,1341,1042,1495,1058,1540,1040,1557,1043,704,1043,515,1052,512,1061,415,1060,976,1060,1035,1056,1067,1048,1115,1051,1130,1065,1199,1074,1261,1063,1433,1070,777,1067,890,1071,1037,1067,1065,1062,1362,1077,1370,1086,1428,1088,1466,1078,1540,1074,1550,1088,549,1084,568,1090,600,1090,465,1085,743,1083,816,1090,942,1088,1112,1085,1153,1095,1166,1092,198,1100,422,1101,476,1110,1081,1108,1118,1100,1495,1108,753,1114,876,1115,936,1119,1215,1115,1293,1118,1136,1114,1468,1120,1488,1131,981,1128,500,1129,1000,1130,1046,1137,1097,1140,1115,1145,1512,1135,1545,1132,735,1150,859,1138,840,1148,1002,1151,1188,1151,1526,1140,821,1165,930,1167,972,1169,1022,1156,1074,1167,1238,1167,1267,1174,1122,1175,878,1188,888,1195,938,1192,1005,1180,1013,1192,1304,1185,87,1222,103,1235,192,1205,75,1298,47,1069,10,1087];
const orangeS = [64,744,47,763,188,730,207,738,239,756,281,765,90,782,131,802,195,788,176,797,207,801,137,820,148,839,240,848,381,871,408,877,492,860,44,917,85,913,61,930,103,936,202,925,214,957,243,958,100,967,85,982,170,977,393,962,317,989,286,1010,412,998,640,1011,661,1043,675,1042,568,1050,20,1000,5,1030,44,1021,103,1012,103,1034,72,1044,42,1052,113,1050,142,1075,141,1087,176,1087,438,1089,486,1082,716,1077,80,1108,20,1112,201,1139,470,1116,516,1141,492,1155,58,1145,80,1150,30,1155,35,1165,5,1171,43,1217,17,1246,3,1255,67,1260,48,1304,108,1302,8,1347,50,1373,60,1391,936,1234,1003,815,916,959,865,873,1018,636,630,733,447,393,490,330,521,323,487,131,590,426];
const cyanS = [407,965,496,843,128,930,81,657,941,1214,1106,749,141,1306,39,1334,986,191,615,340,1175,312,1168,337,940,430,820,475,1251,559,1115,571,464,581,355,575,181,568,190,547,2,412];
const brownS = [141,33,39,133,706,36,741,40,820,25,1042,212,470,323,657,305,242,232,160,411,426,955];
const redS = [852,23,369,62,495,99,253,240,57,635,455,946,990,194,854,340,913,463,867,812,1173,620];
const grayS = [97,12,124,18,182,33,205,115,398,229,551,223,234,249,715,228,392,333,380,351,459,354,849,275,873,282,798,433,887,447,1268,470,971,792,896,818,1150,772];
const greenS = [74,69,855,99,1183,8,1317,37,1349,42,1380,70,1392,71,1533,79,1563,70,1237,162,1210,237,540,305,611,318,1446,193,480,393,435,485,375,522,705,482,1209,570,26,767,136,898,1471,3];
const purpleS = [1028,58,1267,55,1106,103,1136,111,399,180,401,197,576,199,1124,204,970,330,656,339,1218,402,933,455,1481,647,762,887,192,853,1062,8,1091,5];
const pinkS = [1523,8,1519,78,237,213,30,213,1190,302,1332,401,1517,465,1068,528,126,573,508,894];

const blueSE = [608,14,275,114,606,155,759,181,1045,488,816,462,850,464,993,456,775,456,519,499,691,509,821,510,876,500,1007,512,980,528,1044,535,297,531,325,532,513,531,537,537,463,537,615,546,631,539,665,537,688,535,920,541,951,537,874,548,798,557,888,565,814,563,917,567,376,564,401,564,430,548,439,553,449,575,477,578,368,576,483,604,155,580,261,602,295,600,628,591,722,590,714,593,677,603,583,609,837,589,885,585,912,594,904,601,808,616,852,618,1084,575,1051,597,1054,605,985,605,995,622,1030,631,377,608,370,617,531,622,545,618,741,632,773,642,796,650,834,644,871,622,899,629,865,649,922,636,968,634,985,640,933,650,491,642,505,640,574,647,622,640,680,637,10,642,435,658,454,655,617,659,606,669,744,669,780,667,792,679,815,676,766,683,857,682,882,675,898,666,928,679,963,665,954,688,707,679,44,669,87,673,73,687,12,696,205,677,254,690,288,689,359,675,1037,681,1042,700,798,697,930,710,912,719,480,694,505,697,406,712,419,721,462,723,523,725,564,726,592,720,580,706,622,707,670,728,785,730,393,747,452,758,531,744,564,757,579,757,614,761,625,747,672,748,720,755,886,736,922,744,471,792,571,787,610,797,672,776,668,796,728,790,761,775,575,810,626,820,650,810,692,800,696,825,718,827,553,846,906,792,258,809,208,782,230,860,208,871,108,914,99,895,22,928,364,915,5,880,150,1013,343,974,339,998,400,989,251,1031,325,1038,70,1150,133,1122,8,1085,426,334,462,340,610,361,146,382,374,392,487,285,479,298,348,300,652,335,712,311,803,318,891,364];
const greenSE = [5,68,569,66,605,126,595,135,800,82,871,114,840,103,697,152,370,192,539,219,544,258,475,233,482,250,602,210,632,226,662,218,684,207,620,238,655,237,697,235,717,240,583,276,611,274,768,215,791,205,800,228,756,259,708,273,719,263,665,282,686,298,708,295,749,284,734,306,583,317,672,320,660,330,741,327,740,360,750,378,764,369,830,273,841,269,812,314,797,338,262,287,296,292,356,295,82,243,10,276,24,304,420,410,451,411,413,420,440,424,859,407,896,434,879,452,952,434,785,437,803,443,745,476,733,500,631,505,881,496,760,518,778,521,805,590,939,573,992,564,968,592,1024,612,964,648,418,578,225,794,358,872,133,935,175,735,1091,21];
const redSE = [330,15,358,18,571,24,553,29,654,57,691,57,707,70,456,62,925,55,888,91,823,108,339,128,305,155,251,164,548,145,655,118,833,159,812,192,781,241,703,160,672,255,878,288,73,253,15,312,568,455];
const brownSE = [440,83,322,119,910,88,688,134,775,143,538,418,571,453,1051,459,10,726];
const yellowSE = [188,32,315,10,768,41,338,111,384,111,538,131,179,168,253,175,285,175,623,187,468,258,100,245,82,311,902,304,331,377,641,424,841,426,275,444,380,448,403,449,975,437,83,519,117,521,792,529,480,535,947,521,12,551,188,572,391,575,176,668,235,685,34,697,103,695,158,724,59,742,259,751,734,715,753,708,530,711,499,778,148,777,194,775,38,785,52,796,75,813,132,818,150,803,178,825,70,832,231,805,355,828,348,834,187,860,777,802,813,781,837,753,742,790,416,742,940,707,880,738,78,875,80,885,5,893,159,895,227,894,217,905,331,895,364,895,425,904,48,919,65,915,80,921,88,934,228,926,337,923,347,925,357,934,233,945,254,953,153,946,47,957,62,955,78,960,0,967,243,971,313,973,179,978,130,990,146,990,69,995,10,995,100,1015,117,1018,76,1022,62,1039,40,1050,55,1056,3,1045,197,1029,272,1023,294,1028,309,1015,346,1023,130,1055,116,1050,177,1061,119,1065,158,1087,136,1092,93,1098,190,1099,233,1077,261,1081,25,1132,61,1130,65,1163,1,1096];
const pinkSE = [75,74,431,96,952,0,793,143,305,198,112,265,60,305];
const purpleSE = [823,98,260,270,268,279,287,349,298,355,854,340,799,354,881,380,393,444,766,449,254,550,333,550,235,599,250,601,274,620,563,578,963,571,1000,570,169,675,342,795,396,885];
const cyanSE = [533,91,544,105,591,99,185,143,318,207,461,220,118,448];
const graySE = [469,426,660,463];
const orangeSE = [183,734];

const classes = [
  { color: "#a3a3a3", lists: { nw: grayNW, n: grayN, ne: grayNE, sw: graySW, s: grayS, se: graySE } },
  { color: "#8b2be2", lists: { nw: purpleNW, n: purpleN, ne: purpleNE, sw: purpleSW, s: purpleS, se: purpleSE } },
  { color: "#1ac938", lists: { nw: greenNW, n: greenN, ne: greenNE, sw: greenSW, s: greenS, se: greenSE } },
  { color: "#e8000b", lists: { nw: redNW, n: redN, ne: redNE, sw: redSW, s: redS, se: redSE } },
  { color: "#f14cc1", lists: { nw: pinkNW, n: pinkN, ne: pinkNE, sw: pinkSW, s: pinkS, se: pinkSE } },
  { color: "#023eff", lists: { nw: blueNW, n: blueN, ne: blueNE, sw: blueSW, s: blueS, se: blueSE } },
  { color: "#9f4800", lists: { nw: brownNW, n: brownN, ne: brownNE, sw: brownSW, s: brownS, se: brownSE } },
  { color: "#00d7ff", lists: { nw: cyanNW, n: cyanN, ne: cyanNE, sw: cyanSW, s: cyanS, se: cyanSE } },
  { color: "#ff7c00", lists: { nw: orangeNW, n: [], ne: orangeNE, sw: orangeSW, s: orangeS, se: orangeSE } },
  { color: "#ffc400", lists: { nw: yellowNW, n: yellowN, ne: yellowNE, sw: yellowSW, s: yellowS, se: yellowSE } },
];

const panelOrigin = {
  nw: [140, 60],
  n: [940, 60],
  ne: [1740, 60],
  sw: [140, 860],
  s: [940, 860],
  se: [1740, 860],
};

const WIDTH = 2617;
const HEIGHT = 1720;

export default function App() {
  const svgRef = useRef<SVGSVGElement>(null);

  useEffect(() => {
    const svg = d3.select(svgRef.current);
    svg.selectAll("*").remove();

    const points: { x: number; y: number; color: string }[] = [];
    classes.forEach((c) => {
      Object.entries(c.lists).forEach(([panel, flat]) => {
        const [ox, oy] = panelOrigin[panel];
        const xScale = d3.scaleLinear().domain([0, 1568]).range([ox, ox + 800]);
        const yScale = d3.scaleLinear().domain([0, 1568]).range([oy, oy + 800]);
        for (let i = 0; i < flat.length; i += 2) {
          points.push({ x: xScale(flat[i]), y: yScale(flat[i + 1]), color: c.color });
        }
      });
    });

    // classes overlap in no particular order in the original
    d3.shuffler(d3.randomLcg(0.37))(points);

    svg
      .append("g")
      .selectAll("circle")
      .data(points)
      .join("circle")
      .attr("cx", (d) => d.x)
      .attr("cy", (d) => d.y)
      .attr("r", 8.4)
      .attr("fill", (d) => d.color)
      .attr("stroke", "#fff")
      .attr("stroke-width", 1);

    // frame
    svg
      .append("rect")
      .attr("x", 43)
      .attr("y", 16)
      .attr("width", 2558)
      .attr("height", 1661)
      .attr("fill", "none")
      .attr("stroke", "#000")
      .attr("stroke-width", 6);
  }, []);

  return (
    <svg
      ref={svgRef}
      width={WIDTH}
      height={HEIGHT}
      style={{ position: "absolute", left: 0, top: 0, background: "#fff" }}
    ></svg>
  );
}
